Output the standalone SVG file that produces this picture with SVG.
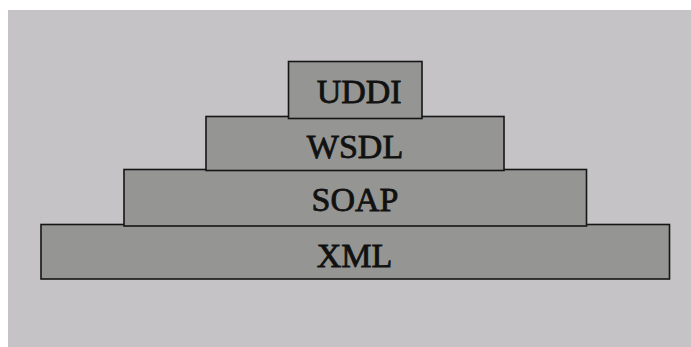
<svg xmlns="http://www.w3.org/2000/svg" width="691" height="347" viewBox="0 0 691 347">
<style>
.layer{fill:#959693;stroke:#161616;stroke-width:1.6}
.lbl{font-family:"Liberation Serif","Times New Roman",serif;font-size:34px;fill:#111;stroke:#111;stroke-width:0.8;text-anchor:middle}
</style>
<rect x="0" y="0" width="691" height="347" fill="#ffffff"/>
<rect x="8" y="10" width="683" height="337" fill="#c5c3c6"/>
<g id="xml"><rect class="layer" x="41" y="224.5" width="628.5" height="54.5"/><text class="lbl" x="354.5" y="266.5">XML</text></g>
<g id="soap"><rect class="layer" x="124" y="169.5" width="462.5" height="56.5"/><text class="lbl" x="355" y="210.5">SOAP</text></g>
<g id="wsdl"><rect class="layer" x="206" y="116.5" width="298" height="54"/><text class="lbl" x="355" y="158.3">WSDL</text></g>
<g id="uddi"><rect class="layer" x="288.5" y="61.5" width="133.5" height="57"/><text class="lbl" x="359.2" y="103.3">UDDI</text></g>
<g id="connectors"/>
</svg>
